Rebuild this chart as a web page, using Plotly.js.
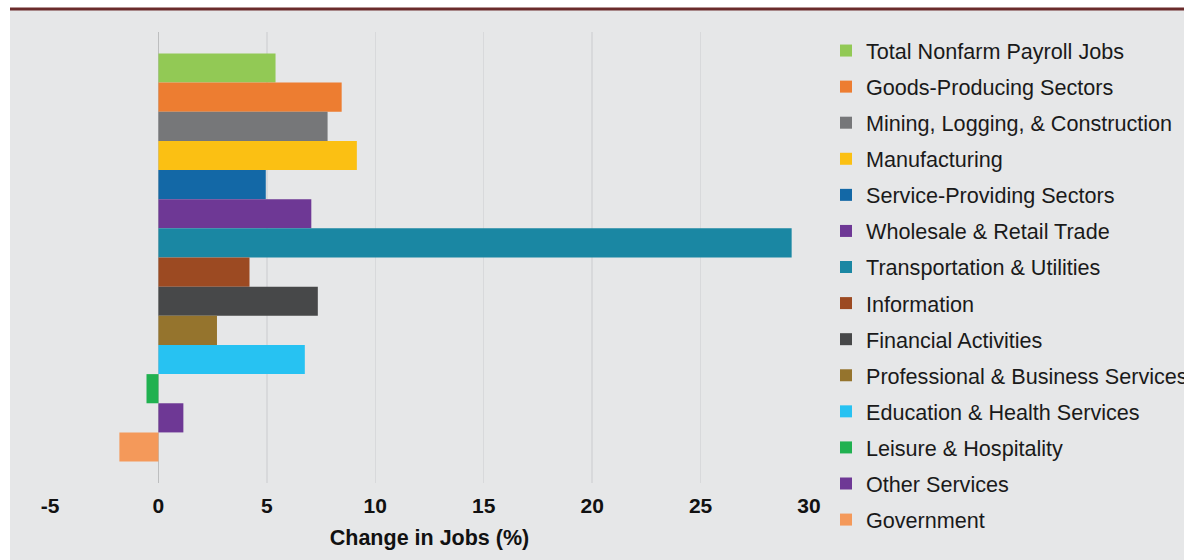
<!DOCTYPE html>
<html>
<head>
<meta charset="utf-8">
<script src="https://cdn.plot.ly/plotly-3.0.1.min.js"></script>
<style>
  html, body { margin: 0; padding: 0; background: #ffffff; }
  #chart { width: 1184px; height: 560px; }
</style>
</head>
<body>
<div id="chart"></div>
<script>
// Sectors (legend order, top bar first)
const sectors = [
  "Total Nonfarm Payroll Jobs",
  "Goods-Producing Sectors",
  "Mining, Logging, & Construction",
  "Manufacturing",
  "Service-Providing Sectors",
  "Wholesale & Retail Trade",
  "Transportation & Utilities",
  "Information",
  "Financial Activities",
  "Professional & Business Services",
  "Education & Health Services",
  "Leisure & Hospitality",
  "Other Services",
  "Government"
];
// Change in jobs (%)
const changePct = [5.4, 8.45, 7.8, 9.15, 4.95, 7.05, 29.2, 4.2, 7.35, 2.7, 6.75, -0.55, 1.15, -1.8];
const barColors = [
  "#92c955", "#ed7d31", "#767779", "#fbc013", "#1368a6", "#6e3895", "#1a87a3",
  "#9c4a22", "#474849", "#95742d", "#27c2f2", "#20b150", "#6e3895", "#f4995a"
];
const xTickVals = [-5, 0, 5, 10, 15, 20, 25, 30];
const xTitle = "Change in Jobs (%)";

const W = 1184, H = 560;
const M = { l: 50, r: 375, t: 32, b: 77 };
const PW = W - M.l - M.r, PH = H - M.t - M.b;
const px2x = p => (p - M.l) / PW;
const px2y = p => (H - M.b - p) / PH;

const traces = sectors.map((name, i) => ({
  type: "bar",
  orientation: "h",
  name: name,
  x: [changePct[i]],
  y: ["Change"],
  marker: { color: barColors[i], line: { width: 0 } },
  legendgroup: "g" + i,
  hoverinfo: "x+name"
}));

const font = "'Liberation Sans', Arial, sans-serif";

const layout = {
  width: W, height: H,
  margin: { l: M.l, r: M.r, t: M.t, b: M.b, pad: 0, autoexpand: false },
  paper_bgcolor: "#e6e7e8",
  plot_bgcolor: "#e6e7e8",
  barmode: "group",
  bargap: 0.095,
  bargroupgap: 0,
  showlegend: true,
  legend: {
    x: px2x(826), xanchor: "left",
    y: px2y(30), yanchor: "top",
    maxheight: 700,
    bgcolor: "rgba(0,0,0,0)",
    borderwidth: 0,
    traceorder: "grouped",
    tracegroupgap: 5,
    itemwidth: 30,
    font: { family: font, size: 21.6, color: "#1a1a1a" }
  },
  xaxis: {
    range: [-5, 30],
    tickmode: "array",
    tickvals: xTickVals,
    ticktext: xTickVals.map(String),
    ticks: "",
    ticklabelstandoff: 8,
    showline: false,
    showgrid: true,
    gridcolor: "#d8d9db",
    gridwidth: 1.5,
    zeroline: true,
    zerolinecolor: "#bdbebf",
    zerolinewidth: 1.5,
    tickfont: { family: font, size: 21, color: "#111111", weight: "bold" },
    title: { text: xTitle, font: { family: font, size: 21.5, color: "#111111", weight: "bold" }, standoff: 13 },
    fixedrange: true
  },
  yaxis: {
    autorange: "reversed",
    showticklabels: false,
    showgrid: false,
    zeroline: false,
    showline: false,
    ticks: "",
    fixedrange: true
  },
  shapes: [
    { type: "rect", xref: "paper", yref: "paper", x0: px2x(-5), x1: px2x(10), y0: px2y(565), y1: px2y(-5),
      fillcolor: "#ffffff", line: { width: 0 }, layer: "below" },
    { type: "rect", xref: "paper", yref: "paper", x0: px2x(-5), x1: px2x(1190), y0: px2y(8), y1: px2y(-5),
      fillcolor: "#ffffff", line: { width: 0 }, layer: "below" },
    { type: "line", xref: "paper", yref: "paper", x0: px2x(10), x1: px2x(1190), y0: px2y(9), y1: px2y(9),
      line: { color: "#6a2b2b", width: 3 }, layer: "below" }
  ]
};

Plotly.newPlot("chart", traces, layout, { displayModeBar: false, staticPlot: true });
</script>
</body>
</html>
